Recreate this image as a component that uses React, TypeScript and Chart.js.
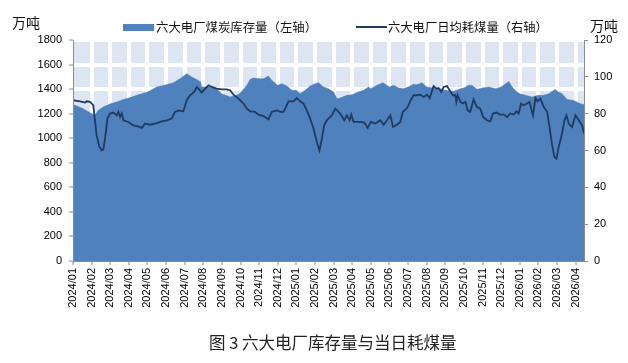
import React, { useEffect, useRef } from "react";
import { Chart, registerables } from "chart.js";

Chart.register(...registerables);

const MONTH_LABELS = [
  "2024/01", "2024/02", "2024/03", "2024/04", "2024/05", "2024/06", "2024/07", "2024/08", "2024/09", "2024/10", "2024/11", "2024/12",
  "2025/01", "2025/02", "2025/03", "2025/04", "2025/05", "2025/06", "2025/07", "2025/08", "2025/09", "2025/10", "2025/11", "2025/12",
  "2026/01", "2026/02", "2026/03", "2026/04",
];

// 六大电厂煤炭库存量（左轴）: x = months since 2024/01, y = 万吨
const STOCK_X = [
  0, 0.56, 1.0, 1.18, 1.36, 1.63, 2.01, 2.35, 2.71, 2.99, 3.42, 4.0, 4.5, 5.0, 5.39, 5.75, 6.0, 6.11, 6.38, 6.74, 6.86, 6.9,
  7.01, 7.37, 7.72, 7.99, 8.44, 8.8, 9.0, 9.34, 9.52, 9.7, 10.0, 10.23, 10.5, 10.68, 11.0, 11.22, 11.49, 11.76, 12.0, 12.2,
  12.47, 12.74, 13.0, 13.19, 13.46, 13.72, 14.0, 14.18, 14.35, 14.71, 15.0, 15.34, 15.61, 15.88, 16.0, 16.33, 16.65, 17.0,
  17.22, 17.49, 17.76, 18.0, 18.3, 18.48, 18.75, 19.0, 19.37, 19.73, 20.0, 20.45, 20.81, 21.0, 21.25, 21.43, 21.7, 22.0,
  22.33, 22.69, 23.0, 23.23, 23.41, 23.59, 23.85, 24.0, 24.3, 24.66, 25.0, 25.29, 25.56, 25.91, 26.0, 26.27, 26.54, 26.9,
  27.0, 27.26, 27.45,
];
const STOCK_Y = [
  1275, 1241, 1200, 1192, 1227, 1254, 1281, 1295, 1316, 1327, 1349, 1376, 1417, 1436, 1452, 1485, 1512, 1526, 1499, 1471, 1458, 1420,
  1417, 1417, 1403, 1363, 1335, 1349, 1371, 1431, 1480, 1490, 1485, 1485, 1507, 1471, 1431, 1444, 1425, 1390, 1390, 1363,
  1390, 1425, 1444, 1452, 1417, 1403, 1376, 1322, 1327, 1349, 1355, 1376, 1390, 1417, 1403, 1431, 1452, 1417,
  1431, 1409, 1403, 1417, 1440, 1436, 1452, 1417, 1409, 1403, 1390, 1382, 1403, 1409, 1431, 1431, 1398, 1409,
  1417, 1403, 1417, 1444, 1463, 1417, 1376, 1363, 1349, 1335, 1349, 1349, 1363, 1398, 1382, 1363, 1316, 1308,
  1300, 1281, 1275,
];

// 六大电厂日均耗煤量（右轴）: x = months since 2024/01, y = 万吨
const BURN_X = [
  0, 0.38, 0.65, 0.73, 0.91, 1.09, 1.18, 1.27, 1.42, 1.54, 1.63, 1.72, 1.85, 1.99, 2.17, 2.35, 2.44, 2.53, 2.62, 2.71, 2.97,
  3.24, 3.51, 3.69, 3.87, 4.14, 4.5, 4.77, 5.04, 5.3, 5.48, 5.66, 5.93, 6.11, 6.29, 6.51, 6.65, 6.74, 6.92, 7.1, 7.28, 7.46,
  7.72, 7.99, 8.26, 8.44, 8.62, 8.89, 9.16, 9.34, 9.52, 9.78, 9.96, 10.23, 10.5, 10.68, 10.95, 11.13, 11.31, 11.58, 11.85,
  12.02, 12.2, 12.38, 12.56, 12.74, 12.92, 13.1, 13.24, 13.37, 13.49, 13.63, 13.91, 14.09, 14.27, 14.44, 14.57, 14.71, 14.86,
  14.95, 15.07, 15.43, 15.65, 15.83, 16.0, 16.24, 16.51, 16.69, 16.87, 17.05, 17.19, 17.4, 17.58, 17.72, 17.91, 18.03, 18.12,
  18.3, 18.48, 18.66, 18.84, 19.02, 19.16, 19.37, 19.52, 19.64, 19.78, 19.91, 20.09, 20.27, 20.41, 20.54, 20.59, 20.66,
  20.81, 20.95, 21.08, 21.2, 21.34, 21.52, 21.7, 21.88, 22.03, 22.24, 22.42, 22.56, 22.74, 22.96, 23.14, 23.32, 23.48,
  23.68, 23.82, 23.94, 24.07, 24.21, 24.39, 24.52, 24.71, 24.84, 24.96, 25.11, 25.29, 25.47, 25.61, 25.74, 25.86, 25.97,
  26.09, 26.27, 26.4, 26.51, 26.63, 26.81, 26.99, 27.17, 27.35, 27.45,
];
const BURN_Y = [
  87.3, 86.7, 86.0, 86.7, 86.4, 84.6, 76.4, 68.2, 61.9, 60.1, 60.6, 66.4, 77.3, 80.1, 80.6, 79.1, 81.0, 78.2, 80.1, 76.4, 75.5,
  73.6, 73.1, 72.2, 74.6, 74.0, 74.9, 75.8, 76.4, 77.3, 81.0, 81.8, 81.3, 87.3, 90.0, 91.8, 94.5, 93.6, 91.4, 93.6, 95.4, 94.5,
  93.6, 93.2, 93.2, 92.7, 90.3, 88.2, 85.5, 82.7, 81.3, 81.0, 79.5, 78.7, 76.9, 81.0, 81.8, 81.0, 81.0, 86.7, 86.7,
  88.5, 86.7, 85.5, 81.8, 77.3, 71.9, 64.6, 60.1, 66.4, 73.6, 76.4, 79.1, 82.7, 81.0, 78.7, 76.4, 79.1, 76.4,
  79.5, 75.5, 75.5, 75.2, 72.2, 75.5, 74.6, 76.4, 74.0, 76.4, 79.1, 72.8, 74.0, 75.5, 81.0, 82.7, 84.6, 87.0,
  90.0, 90.0, 90.3, 89.1, 90.3, 88.5, 95.0, 93.6, 93.9, 91.8, 94.5, 95.0, 92.1, 90.0, 90.0, 86.4, 90.0,
  86.4, 85.5, 86.4, 81.8, 81.0, 87.8, 83.6, 82.7, 78.2, 76.4, 75.8, 80.1, 80.6, 79.5, 79.5, 78.2, 80.1,
  79.5, 81.3, 80.1, 85.5, 84.6, 85.5, 86.4, 79.1, 88.5, 86.7, 88.2, 83.6, 81.0, 71.9, 62.9, 56.5, 55.6,
  61.9, 69.2, 76.4, 79.1, 74.6, 72.8, 79.1, 76.4, 73.6, 69.2,
];

const LEFT_TICK_STEP = 200;
const RIGHT_TICK_STEP = 20;

const AXIS_GRAY = "#8C8C8C";
const NUM_FONT = "'Liberation Sans', Arial, sans-serif";
const CJK_FONT = "'Noto Sans CJK SC', sans-serif";

const tileBg = {
  id: "tileBg",
  beforeDraw(chart: any) {
    const { ctx, chartArea: a } = chart;
    ctx.save();
    ctx.fillStyle = "#DCE5F1";
    ctx.fillRect(a.left, a.top, a.right - a.left, a.bottom - a.top);
    ctx.restore();
  },
};

export default function App() {
  const ref = useRef<HTMLCanvasElement | null>(null);

  useEffect(() => {
    if (!ref.current) return;
    const chart = new Chart(ref.current, {
      type: "line",
      data: {
        datasets: [
          {
            label: "六大电厂日均耗煤量（右轴）",
            data: BURN_X.map((x, i) => ({ x, y: BURN_Y[i] })),
            yAxisID: "y1",
            borderColor: "#1F3B63",
            borderWidth: 1.8,
            pointRadius: 0,
            fill: false,
            tension: 0,
            order: 0,
          },
          {
            label: "六大电厂煤炭库存量（左轴）",
            data: STOCK_X.map((x, i) => ({ x, y: STOCK_Y[i] })),
            yAxisID: "y",
            borderColor: "#4F81BD",
            borderWidth: 0.5,
            backgroundColor: "#4F81BD",
            pointRadius: 0,
            fill: "origin",
            tension: 0,
            order: 1,
          },
        ],
      } as any,
      options: {
        animation: false,
        responsive: false,
        devicePixelRatio: 1,
        layout: { padding: { top: 40, left: 0, right: 0, bottom: 0 } },
        plugins: { legend: { display: false }, tooltip: { enabled: false } },
        scales: {
          x: {
            type: "linear",
            min: 0,
            max: 27.45,
            position: "bottom",
            ticks: {
              stepSize: 1,
              autoSkip: false,
              includeBounds: false,
              maxRotation: 90,
              minRotation: 90,
              padding: 3,
              color: "#000",
              font: { size: 11, family: NUM_FONT },
              callback: (v: any) => MONTH_LABELS[Math.round(v)] ?? "",
            },
            grid: {
              color: (c: any) => (c.index === 0 ? "rgba(0,0,0,0)" : "#FFFFFF"),
              lineWidth: 4,
              tickColor: AXIS_GRAY,
              tickWidth: 1,
              tickLength: 4,
            },
            border: { color: AXIS_GRAY, width: 1, z: 1 },
            afterFit: (s: any) => {
              s.height = 102;
            },
          },
          y: {
            position: "left",
            min: 0,
            max: 1800,
            ticks: {
              stepSize: LEFT_TICK_STEP,
              padding: 7,
              color: "#000",
              font: { size: 11, family: NUM_FONT },
              callback: (v: any) => String(v),
            },
            grid: {
              color: (c: any) => (c.tick && c.tick.value === 0 ? "rgba(0,0,0,0)" : "#FFFFFF"),
              lineWidth: 4,
              tickColor: AXIS_GRAY,
              tickWidth: 1,
              tickLength: 4,
            },
            border: { color: AXIS_GRAY, width: 1, z: 1 },
            afterFit: (s: any) => {
              s.width = 73;
            },
          },
          y1: {
            position: "right",
            min: 0,
            max: 120,
            ticks: {
              stepSize: RIGHT_TICK_STEP,
              padding: 6,
              color: "#000",
              font: { size: 11, family: NUM_FONT },
              callback: (v: any) => String(v),
            },
            grid: {
              drawOnChartArea: false,
              tickColor: AXIS_GRAY,
              tickWidth: 1,
              tickLength: 4,
            },
            border: { color: AXIS_GRAY, width: 1, z: 1 },
            afterFit: (s: any) => {
              s.width = 44;
            },
          },
        },
      } as any,
      plugins: [tileBg],
    });
    return () => chart.destroy();
  }, []);

  const abs = (extra: React.CSSProperties): React.CSSProperties => ({
    position: "absolute",
    whiteSpace: "nowrap",
    fontFamily: CJK_FONT,
    color: "#111",
    ...extra,
  });

  return (
    <div style={{ position: "absolute", left: 0, top: 0, width: 628, height: 363, background: "#fff" }}>
      <canvas ref={ref} width={628} height={363} style={{ position: "absolute", left: 0, top: 0, width: 628, height: 363 }} />
      <div style={abs({ left: 12, top: 12, fontSize: 14, lineHeight: "20px" })}>万吨</div>
      <div style={abs({ left: 590, top: 15, fontSize: 14, lineHeight: "20px" })}>万吨</div>
      <div style={{ position: "absolute", left: 123, top: 24, width: 31, height: 7, background: "#4F81BD" }} />
      <div style={abs({ left: 156, top: 19, fontSize: 12.4, lineHeight: "16px" })}>六大电厂煤炭库存量（左轴）</div>
      <div style={{ position: "absolute", left: 356, top: 26, width: 31, height: 2, background: "#1F3B63" }} />
      <div style={abs({ left: 388, top: 19, fontSize: 12.3, lineHeight: "16px" })}>六大电厂日均耗煤量（右轴）</div>
      <div style={abs({ left: 209, top: 332, fontSize: 16.5, lineHeight: "20px", color: "#222" })}>图 3 六大电厂库存量与当日耗煤量</div>
    </div>
  );
}
